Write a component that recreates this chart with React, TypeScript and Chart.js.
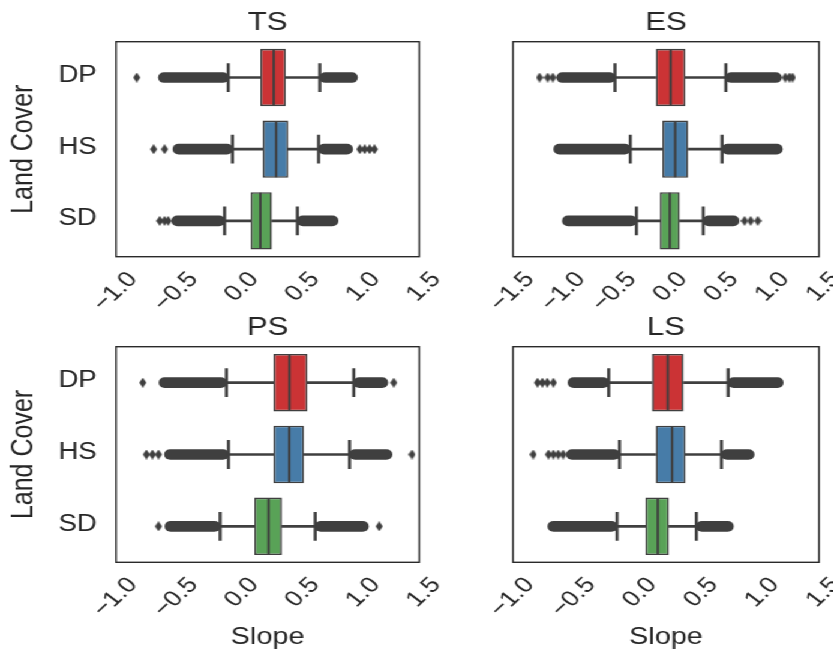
import React, { useEffect, useRef } from 'react';
import { Chart, registerables } from 'chart.js';

Chart.register(...registerables);

// ---------------- data ----------------
const categories = ['DP', 'HS', 'SD'];
const panelTitles = ['TS', 'ES', 'PS', 'LS'];
const boxColors = ['#cb3335', '#477ca8', '#59a257'];
const xMinValues = [-1, -1.5, -1, -1];
const xMaxValues = [1.5, 1.5, 1.5, 1.5];

// TS
const tsQ1 = [0.19, 0.21, 0.11];
const tsMedian = [0.3, 0.32, 0.19];
const tsQ3 = [0.4, 0.42, 0.285];
const tsWhiskerLow = [-0.075, -0.04, -0.105];
const tsWhiskerHigh = [0.68, 0.67, 0.495];
const tsOutlierLow = [-0.65, -0.53, -0.54];
const tsOutlierHigh = [0.99, 0.95, 0.83];
const tsFliers = [[-0.83], [-0.69, -0.6, 1.01, 1.05, 1.09, 1.13], [-0.64, -0.6, -0.57]];

// ES
const esQ1 = [-0.1, -0.035, -0.06];
const esMedian = [0.045, 0.09, 0.037];
const esQ3 = [0.19, 0.218, 0.135];
const esWhiskerLow = [-0.5, -0.35, -0.29];
const esWhiskerHigh = [0.587, 0.55, 0.365];
const esOutlierLow = [-1.07, -1.1, -1.015];
const esOutlierHigh = [1.13, 1.14, 0.715];
const esFliers = [[-1.24, -1.16, -1.11, 1.17, 1.21, 1.24], [], [0.77, 0.83, 0.9]];

// PS
const psQ1 = [0.298, 0.298, 0.14];
const psMedian = [0.43, 0.428, 0.257];
const psQ3 = [0.578, 0.55, 0.367];
const psWhiskerLow = [-0.09, -0.073, -0.142];
const psWhiskerHigh = [0.96, 0.925, 0.642];
const psOutlierLow = [-0.645, -0.6, -0.596];
const psOutlierHigh = [1.24, 1.275, 1.08];
const psFliers = [[-0.78, 1.29], [-0.75, -0.7, -0.65, 1.44], [-0.65, 1.17]];

// LS
const lsQ1 = [0.135, 0.166, 0.082];
const lsMedian = [0.265, 0.3, 0.183];
const lsQ3 = [0.393, 0.41, 0.274];
const lsWhiskerLow = [-0.218, -0.13, -0.15];
const lsWhiskerHigh = [0.758, 0.703, 0.498];
const lsOutlierLow = [-0.55, -0.563, -0.715];
const lsOutlierHigh = [1.207, 0.97, 0.8];
const lsFliers = [[-0.8, -0.76, -0.72, -0.67], [-0.835, -0.71, -0.67, -0.63, -0.59], []];

const panelData = [
  { q1: tsQ1, med: tsMedian, q3: tsQ3, wLo: tsWhiskerLow, wHi: tsWhiskerHigh, oLo: tsOutlierLow, oHi: tsOutlierHigh, fliers: tsFliers },
  { q1: esQ1, med: esMedian, q3: esQ3, wLo: esWhiskerLow, wHi: esWhiskerHigh, oLo: esOutlierLow, oHi: esOutlierHigh, fliers: esFliers },
  { q1: psQ1, med: psMedian, q3: psQ3, wLo: psWhiskerLow, wHi: psWhiskerHigh, oLo: psOutlierLow, oHi: psOutlierHigh, fliers: psFliers },
  { q1: lsQ1, med: lsMedian, q3: lsQ3, wLo: lsWhiskerLow, wHi: lsWhiskerHigh, oLo: lsOutlierLow, oHi: lsOutlierHigh, fliers: lsFliers },
];

// ---------------- layout / style ----------------
const STRETCH = 1.2;
const PAGE_W = 833 / STRETCH;
const GRAY = '#3f3f3f';
const TEXT = '#262626';
const FONT = "'Liberation Sans', Arial, Helvetica, sans-serif";

const layouts = [
  { left: 0, top: 0, width: 380, height: 312, row: 0, col: 0 },
  { left: 358, top: 0, width: 380, height: 312, row: 0, col: 1 },
  { left: 0, top: 310, width: 380, height: 342, row: 1, col: 0 },
  { left: 358, top: 310, width: 380, height: 342, row: 1, col: 1 },
];

const framePlugin = {
  id: 'frame',
  afterDatasetsDraw(chart: any) {
    const { ctx, chartArea } = chart;
    ctx.save();
    ctx.strokeStyle = '#2a2a2a';
    ctx.lineWidth = 1.4;
    ctx.strokeRect(chartArea.left, chartArea.top, chartArea.right - chartArea.left, chartArea.bottom - chartArea.top);
    ctx.restore();
  },
};

function makeDiamond() {
  const c = document.createElement('canvas');
  c.width = 6;
  c.height = 10;
  const g = c.getContext('2d')!;
  g.fillStyle = GRAY;
  g.beginPath();
  g.moveTo(3, 0);
  g.lineTo(6, 5);
  g.lineTo(3, 10);
  g.lineTo(0, 5);
  g.closePath();
  g.fill();
  return c;
}

function fmtTick(v: any) {
  const n = Number(v);
  if (Math.abs(n) < 1e-9) return '0.0';
  return (n < 0 ? '\u2212' : '') + Math.abs(n).toFixed(1);
}

function buildConfig(idx: number, diamond: HTMLCanvasElement) {
  const d = panelData[idx];
  const L = layouts[idx];
  const isLeft = L.col === 0;
  const isBottom = L.row === 1;
  const chartTop = isBottom ? 346.7 - L.top : 41.7;
  const chartBottom = (isBottom ? 562.3 : 256.7) - L.top;
  const chartLeft = (isLeft ? 96.7 : 427.5) - L.left;
  const chartRight = (isLeft ? 349.4 : 682.5) - L.left;
  const titleMid = isBottom ? 18 : 23;
  const titleFont = 26;
  const titleLH = titleFont * 1.2;
  const titlePadTop = titleMid - titleLH / 2;
  const titlePadBottom = chartTop - titleLH - titlePadTop;
  const xAxisHeight = L.height - chartBottom;

  const idxs = categories.map((_, i) => i);

  return {
    type: 'bar',
    data: {
      labels: categories,
      datasets: [
        {
          type: 'bar',
          label: 'whisker low',
          data: idxs.map((i) => [d.wLo[i], d.q1[i]]),
          backgroundColor: GRAY,
          barThickness: 2,
          grouped: false,
          order: 6,
        },
        {
          type: 'bar',
          label: 'whisker high',
          data: idxs.map((i) => [d.q3[i], d.wHi[i]]),
          backgroundColor: GRAY,
          barThickness: 2,
          grouped: false,
          order: 6,
        },
        {
          type: 'bar',
          label: 'outliers low',
          data: idxs.map((i) => [d.oLo[i], d.wLo[i]]),
          backgroundColor: GRAY,
          barThickness: 10,
          borderRadius: 5,
          borderSkipped: false,
          grouped: false,
          order: 5,
        },
        {
          type: 'bar',
          label: 'outliers high',
          data: idxs.map((i) => [d.wHi[i], d.oHi[i]]),
          backgroundColor: GRAY,
          barThickness: 10,
          borderRadius: 5,
          borderSkipped: false,
          grouped: false,
          order: 5,
        },
        {
          type: 'bar',
          label: 'box',
          data: idxs.map((i) => [d.q1[i], d.q3[i]]),
          backgroundColor: boxColors,
          borderColor: GRAY,
          borderWidth: 1.6,
          borderSkipped: false,
          barPercentage: 0.8,
          categoryPercentage: 1,
          grouped: false,
          order: 3,
        },
        {
          type: 'scatter',
          label: 'median',
          data: idxs.map((i) => ({ x: d.med[i], y: categories[i] })),
          pointStyle: 'line',
          pointRotation: 90,
          pointRadius: 28,
          pointHoverRadius: 28,
          pointBorderWidth: 2,
          pointBorderColor: GRAY,
          order: 2,
        },
        {
          type: 'scatter',
          label: 'caps',
          data: idxs.flatMap((i) => [
            { x: d.wLo[i], y: categories[i] },
            { x: d.wHi[i], y: categories[i] },
          ]),
          pointStyle: 'line',
          pointRotation: 90,
          pointRadius: 14.4,
          pointHoverRadius: 14.4,
          pointBorderWidth: 2.6,
          pointBorderColor: GRAY,
          order: 1,
        },
        {
          type: 'scatter',
          label: 'fliers',
          data: idxs.flatMap((i) => d.fliers[i].map((v) => ({ x: v, y: categories[i] }))),
          pointStyle: diamond,
          pointRadius: 5,
          order: 1,
        },
      ],
    },
    options: {
      indexAxis: 'y',
      animation: false,
      responsive: false,
      events: [],
      layout: {
        padding: {
          top: 0,
          bottom: 0,
          left: 0,
          right: L.width - chartRight,
        },
      },
      plugins: {
        legend: { display: false },
        tooltip: { enabled: false },
        title: {
          display: true,
          text: panelTitles[idx],
          fullSize: false,
          color: TEXT,
          font: { family: FONT, size: titleFont, weight: 'normal', lineHeight: 1.2 },
          padding: { top: titlePadTop, bottom: titlePadBottom },
        },
      },
      scales: {
        x: {
          type: 'linear',
          min: xMinValues[idx],
          max: xMaxValues[idx],
          grid: { display: false, drawTicks: false },
          border: { display: false },
          ticks: {
            stepSize: 0.5,
            autoSkip: false,
            minRotation: 48,
            maxRotation: 48,
            labelOffset: 14,
            padding: 10,
            color: TEXT,
            font: { family: FONT, size: 22 },
            callback: fmtTick,
          },
          title: {
            display: isBottom,
            text: 'Slope',
            color: TEXT,
            font: { family: FONT, size: 24, lineHeight: 1.2 },
            padding: { top: 0, bottom: 0.6 },
          },
          afterFit: (scale: any) => {
            scale.height = xAxisHeight;
          },
        },
        y: {
          type: 'category',
          display: isLeft,
          grid: { display: false, drawTicks: false },
          border: { display: false },
          ticks: {
            padding: 16,
            labelOffset: -2,
            color: TEXT,
            font: { family: FONT, size: 23 },
          },
          title: {
            display: isLeft,
            text: 'Land Cover',
            color: TEXT,
            font: { family: FONT, size: 25, lineHeight: 1.2 },
            padding: { top: 5, bottom: 0 },
          },
          afterFit: (scale: any) => {
            scale.width = chartLeft;
          },
        },
      },
    },
    plugins: [framePlugin],
  };
}

export default function App() {
  const refs = [useRef<HTMLCanvasElement>(null), useRef<HTMLCanvasElement>(null), useRef<HTMLCanvasElement>(null), useRef<HTMLCanvasElement>(null)];

  useEffect(() => {
    document.body.style.overflow = 'hidden';
    const diamond = makeDiamond();
    const charts = refs.map((r, i) => new Chart(r.current as HTMLCanvasElement, buildConfig(i, diamond) as any));
    return () => charts.forEach((c) => c.destroy());
  }, []);

  return (
    <div
      style={{
        position: 'absolute',
        left: 0,
        top: 0,
        width: PAGE_W,
        height: 652,
        overflow: 'hidden',
        background: '#ffffff',
        transform: `scaleX(${STRETCH})`,
        transformOrigin: '0 0',
      }}
    >
      {layouts.map((L, i) => (
        <canvas
          key={i}
          ref={refs[i]}
          width={L.width}
          height={L.height}
          style={{ position: 'absolute', left: L.left, top: L.top, width: L.width, height: L.height }}
        />
      ))}
    </div>
  );
}
